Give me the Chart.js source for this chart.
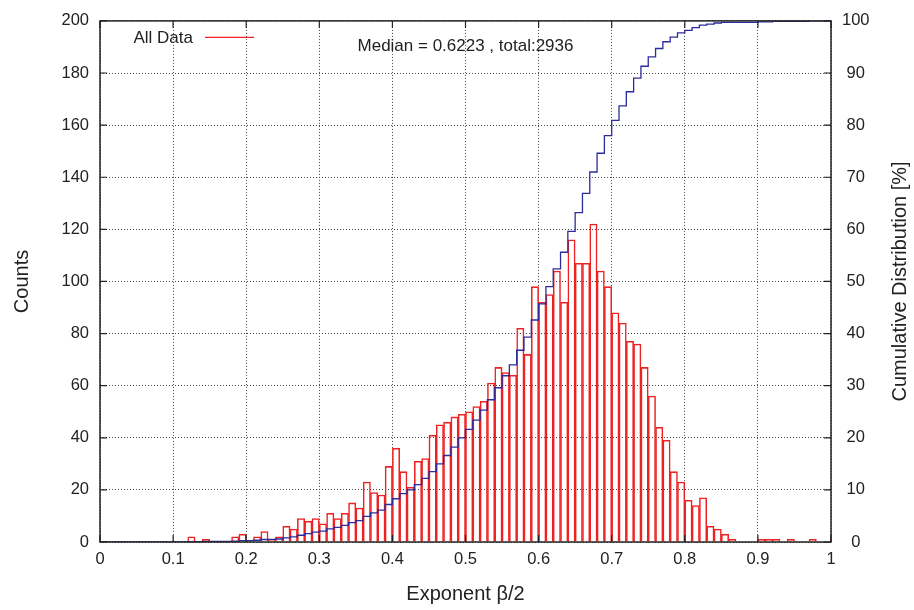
<!DOCTYPE html>
<html>
<head>
<meta charset="utf-8">
<script src="https://cdn.jsdelivr.net/npm/chart.js@4.4.0/dist/chart.umd.min.js"></script>
<style>
  html, body { margin: 0; padding: 0; background: #fff; }
  #wrap { width: 914px; height: 610px; }
</style>
</head>
<body>
<div id="wrap"><canvas id="chart" width="914" height="610"></canvas></div>
<script>
// --- data ---

// histogram: 100 bins of width 0.01, starting at 0
const binWidth = 0.01;
const counts = [
  0, 0, 0, 0, 0, 0, 0, 0, 0, 0,          // 0.00 - 0.09
  0, 0, 2, 0, 1, 0, 0, 0, 2, 3,          // 0.10 - 0.19
  0, 2, 4, 1, 2, 6, 5, 9, 8, 9,          // 0.20 - 0.29
  7, 11, 9, 11, 15, 13, 23, 19, 18, 29,  // 0.30 - 0.39
  36, 27, 21, 31, 32, 41, 45, 46, 48, 49, // 0.40 - 0.49
  50, 52, 54, 61, 67, 65, 64, 82, 72, 98, // 0.50 - 0.59
  92, 95, 104, 92, 116, 107, 107, 122, 104, 98, // 0.60 - 0.69
  88, 84, 77, 76, 67, 56, 44, 39, 27, 23, // 0.70 - 0.79
  16, 14, 17, 6, 5, 3, 1, 0, 0, 0,       // 0.80 - 0.89
  1, 1, 1, 0, 1, 0, 0, 1, 0, 0           // 0.90 - 0.99
];

// cumulative distribution [%], one value per bin
const cumPercent = [
  0, 0, 0, 0, 0, 0, 0, 0, 0, 0,
  0, 0, 0.07, 0.07, 0.1, 0.1, 0.1, 0.1, 0.17, 0.27,
  0.27, 0.34, 0.48, 0.51, 0.58, 0.8, 1.0, 1.3, 1.6, 1.9,
  2.1, 2.5, 2.8, 3.2, 3.7, 4.1, 4.9, 5.6, 6.1, 7.2,
  8.3, 9.3, 10.0, 11.0, 12.2, 13.5, 15.0, 16.6, 18.2, 20.0,
  21.6, 23.4, 25.3, 27.3, 29.6, 31.9, 34.0, 36.8, 39.3, 42.6,
  45.7, 49.0, 52.4, 55.6, 59.6, 63.2, 66.9, 71.0, 74.6, 78.0,
  80.9, 83.7, 86.4, 89.0, 91.3, 93.1, 94.7, 96.0, 96.9, 97.7,
  98.2, 98.7, 99.2, 99.4, 99.6, 99.7, 99.7, 99.7, 99.7, 99.7,
  99.8, 99.8, 99.9, 99.9, 99.9, 99.9, 99.9, 100, 100, 100
];

const xTicks = [0, 0.1, 0.2, 0.3, 0.4, 0.5, 0.6, 0.7, 0.8, 0.9, 1];
const yTicks = [0, 20, 40, 60, 80, 100, 120, 140, 160, 180, 200];
const y2Ticks = [0, 10, 20, 30, 40, 50, 60, 70, 80, 90, 100];

const legendLabel = 'All Data';
const medianNote = 'Median = 0.6223 , total:2936';
const xTitle = 'Exponent \u03B2/2';
const yTitle = 'Counts';
const y2Title = 'Cumulative Distribution [%]';

const FONT = '"Liberation Sans", Arial, Helvetica, sans-serif';
const TEXT = '#222';
const RED = '#ee2222';
const BLUE = '#2c2c9c';

// --- datasets built from the arrays ---
const histData = counts.map((c, i) => ({ x: (i + 0.5) * binWidth, y: c }));
const cumData = cumPercent.map((p, i) => ({ x: i * binWidth, y: p }));
cumData.push({ x: cumPercent.length * binWidth, y: cumPercent[cumPercent.length - 1] });

// frame, inward ticks, key and notes (gnuplot look)
const framePlugin = {
  id: 'frame',
  afterDraw(chart) {
    const { ctx, chartArea: a, scales } = chart;
    const T = 7;
    ctx.save();
    ctx.strokeStyle = '#222';
    ctx.lineWidth = 1.5;
    ctx.strokeRect(a.left, a.top, a.right - a.left, a.bottom - a.top);

    ctx.lineWidth = 1.2;
    ctx.beginPath();
    scales.x.ticks.forEach(t => {
      const px = scales.x.getPixelForValue(t.value);
      ctx.moveTo(px, a.bottom); ctx.lineTo(px, a.bottom - T);
      ctx.moveTo(px, a.top); ctx.lineTo(px, a.top + T);
    });
    scales.y.ticks.forEach(t => {
      const py = scales.y.getPixelForValue(t.value);
      ctx.moveTo(a.left, py); ctx.lineTo(a.left + T, py);
    });
    scales.y2.ticks.forEach(t => {
      const py = scales.y2.getPixelForValue(t.value);
      ctx.moveTo(a.right, py); ctx.lineTo(a.right - T, py);
    });
    ctx.stroke();

    // key
    ctx.fillStyle = TEXT;
    ctx.font = '17px ' + FONT;
    ctx.textBaseline = 'middle';
    ctx.textAlign = 'right';
    ctx.fillText(legendLabel, a.left + 93, a.top + 17);
    ctx.strokeStyle = RED;
    ctx.lineWidth = 1.2;
    ctx.beginPath();
    ctx.moveTo(a.left + 105, a.top + 16.5);
    ctx.lineTo(a.left + 154, a.top + 16.5);
    ctx.stroke();

    // median note
    ctx.textAlign = 'center';
    ctx.fillText(medianNote, (a.left + a.right) / 2, a.top + 25);

    // right axis title, reading upwards
    ctx.font = '20px ' + FONT;
    ctx.translate(a.right + 69, (a.top + a.bottom) / 2);
    ctx.rotate(-Math.PI / 2);
    ctx.fillText(y2Title, 0, 0);
    ctx.restore();
  }
};

const tickFont = { family: FONT, size: 16.5 };
const titleFont = { family: FONT, size: 20 };

new Chart(document.getElementById('chart'), {
  type: 'bar',
  data: {
    datasets: [
      {
        type: 'line',
        data: cumData,
        xAxisID: 'x',
        yAxisID: 'y2',
        stepped: true,
        borderColor: BLUE,
        borderWidth: 1.3,
        pointRadius: 0,
        fill: false,
        order: 0
      },
      {
        type: 'bar',
        data: histData,
        xAxisID: 'x',
        yAxisID: 'y',
        backgroundColor: 'rgba(0,0,0,0)',
        borderColor: RED,
        borderWidth: 0.9,
        barPercentage: 1,
        categoryPercentage: 1,
        order: 1
      }
    ]
  },
  options: {
    responsive: false,
    animation: false,
    layout: { padding: { top: 18, left: 0, right: 0, bottom: 0 } },
    plugins: { legend: { display: false }, tooltip: { enabled: false } },
    scales: {
      x: {
        type: 'linear',
        min: 0, max: 1,
        offset: false,
        afterBuildTicks: s => { s.ticks = xTicks.map(v => ({ value: v })); },
        afterFit: s => { s.height = 68; },
        grid: { offset: false, color: '#444', lineWidth: 1, drawTicks: false },
        border: { display: false, dash: [1, 2] },
        ticks: { autoSkip: false, maxRotation: 0, padding: 8, color: TEXT, font: tickFont, callback: v => String(v) },
        title: { display: true, text: xTitle, color: TEXT, font: titleFont, padding: { top: 0, bottom: 4 } }
      },
      y: {
        type: 'linear',
        position: 'left',
        min: 0, max: 200,
        afterBuildTicks: s => { s.ticks = yTicks.map(v => ({ value: v })); },
        afterFit: s => { s.width = 100; },
        grid: { color: '#444', lineWidth: 1, drawTicks: false },
        border: { display: false, dash: [1, 2] },
        ticks: { padding: 11, color: TEXT, font: tickFont, callback: v => String(v) },
        title: { display: true, text: yTitle, color: TEXT, font: titleFont, padding: { top: 10, bottom: 0 } }
      },
      y2: {
        type: 'linear',
        position: 'right',
        min: 0, max: 100,
        afterBuildTicks: s => { s.ticks = y2Ticks.map(v => ({ value: v })); },
        afterFit: s => { s.width = 83; },
        grid: { drawOnChartArea: false, drawTicks: false },
        border: { display: false },
        ticks: { padding: 11, crossAlign: 'center', color: TEXT, font: tickFont, callback: v => String(v) }
      }
    }
  },
  plugins: [framePlugin]
});
</script>
</body>
</html>
